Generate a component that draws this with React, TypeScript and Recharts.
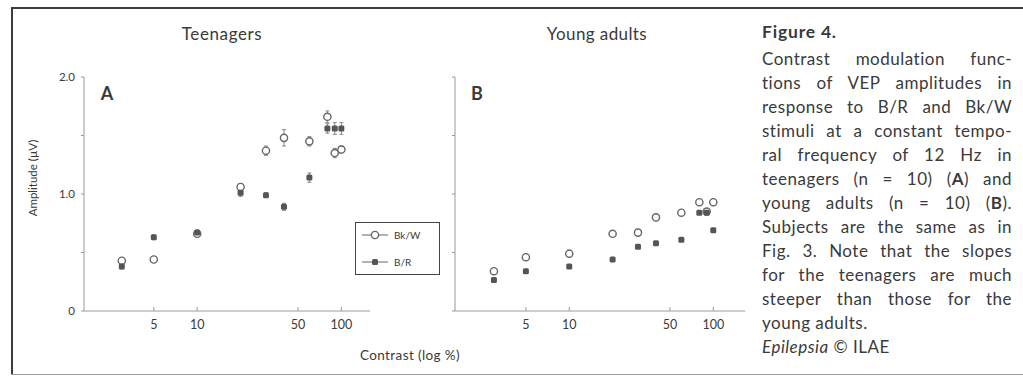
import React from 'react';
import { ScatterChart, Scatter, XAxis, YAxis, ErrorBar } from 'recharts';

const contrastLevels = [3, 5, 10, 20, 30, 40, 60, 80, 90, 100];
const teenBkW = [0.43, 0.44, 0.66, 1.06, 1.37, 1.48, 1.45, 1.66, 1.35, 1.38];
const teenBR = [0.38, 0.63, 0.67, 1.01, 0.99, 0.89, 1.14, 1.56, 1.56, 1.56];
const teenBkWErr = [0.02, 0.02, 0.02, 0.03, 0.04, 0.07, 0.04, 0.05, 0.04, 0.03];
const teenBRErr = [0.02, 0.02, 0.02, 0.03, 0.02, 0.03, 0.04, 0.04, 0.05, 0.05];
const adultBkW = [0.34, 0.46, 0.49, 0.66, 0.67, 0.8, 0.84, 0.93, 0.85, 0.93];
const adultBR = [0.265, 0.34, 0.38, 0.44, 0.55, 0.58, 0.61, 0.84, 0.84, 0.69];
const xTicks = [5, 10, 50, 100];
const yTicks = [0, 0.5, 1.0, 1.5, 2.0];
const yTickLabels: Record<number, string> = { 0: '0', 1: '1.0', 2: '2.0' };

const FONT = "Lato, 'Open Sans', sans-serif";
const TEXT = '#3a3a3a';
const AXIS = '#9a9a9a';

const build = (vals: number[], errs?: number[]) =>
  contrastLevels.map((c, i) => ({ x: c, y: vals[i], err: errs ? errs[i] : 0 }));

const OpenDot = (p: any) => (
  <circle cx={p.cx} cy={p.cy} r={3.6} fill="#fff" stroke="#666" strokeWidth={1.4} />
);
const FilledDot = (p: any) => (
  <rect x={p.cx - 3} y={p.cy - 3} width={6} height={6} rx={1.5} fill="#555" />
);

function Panel(props: {
  left: number;
  width: number;
  marginLeft: number;
  marginRight: number;
  domain: [number, number];
  bkw: { x: number; y: number; err: number }[];
  br: { x: number; y: number; err: number }[];
  showYLabels: boolean;
  errors: boolean;
}) {
  return (
    <div style={{ position: 'absolute', left: props.left, top: 0 }}>
      <ScatterChart
        width={props.width}
        height={378}
        margin={{ top: 77, right: props.marginRight, bottom: 37, left: props.marginLeft }}
      >
        <XAxis
          type="number"
          dataKey="x"
          scale="log"
          domain={props.domain}
          allowDataOverflow
          ticks={xTicks}
          height={30}
          stroke={AXIS}
          tickSize={-4}
          tickMargin={13}
          tick={{ fill: TEXT, fontSize: 12.5, fontFamily: FONT }}
        />
        <YAxis
          type="number"
          dataKey="y"
          domain={[0, 2]}
          ticks={yTicks}
          width={30}
          stroke={AXIS}
          tickSize={3}
          tickMargin={6}
          tickFormatter={(v: number) => (props.showYLabels ? yTickLabels[v] ?? '' : '')}
          tick={{ fill: TEXT, fontSize: 11.5, fontFamily: FONT }}
        />
        <Scatter name="Bk/W" data={props.bkw} shape={OpenDot} isAnimationActive={false}>
          {props.errors && (
            <ErrorBar dataKey="err" direction="y" width={2} stroke="#888" strokeWidth={1} />
          )}
        </Scatter>
        <Scatter name="B/R" data={props.br} shape={FilledDot} isAnimationActive={false}>
          {props.errors && (
            <ErrorBar dataKey="err" direction="y" width={2} stroke="#888" strokeWidth={1} />
          )}
        </Scatter>
      </ScatterChart>
    </div>
  );
}

const captionLines: React.ReactNode[] = [
  'Contrast modulation func-',
  'tions of VEP amplitudes in',
  'response to B/R and Bk/W',
  'stimuli at a constant tempo-',
  'ral frequency of 12 Hz in',
  <>teenagers (n = 10) (<b>A</b>) and</>,
  <>young adults (n = 10) (<b>B</b>).</>,
  'Subjects are the same as in',
  'Fig. 3. Note that the slopes',
  'for the teenagers are much',
  'steeper than those for the',
];

export default function App() {
  const abs = (x: number, y: number, extra: React.CSSProperties = {}): React.CSSProperties => ({
    position: 'absolute',
    left: x,
    top: y,
    transform: 'translate(-50%, -50%)',
    whiteSpace: 'nowrap',
    fontFamily: FONT,
    color: TEXT,
    ...extra,
  });
  return (
    <div
      style={{
        position: 'absolute',
        left: 0,
        top: 0,
        width: 1023,
        height: 378,
        background: '#fff',
        overflow: 'hidden',
        fontFamily: FONT,
      }}
    >
      {/* frame */}
      <div style={{ position: 'absolute', left: 11, top: 7, width: 1012, height: 2, background: '#3c3c3c' }} />
      <div style={{ position: 'absolute', left: 11, top: 7, width: 2, height: 368, background: '#3c3c3c' }} />
      <div style={{ position: 'absolute', left: 11, top: 374, width: 1012, height: 1, background: '#9a9a9a' }} />

      <Panel
        left={0}
        width={400}
        marginLeft={54}
        marginRight={30}
        domain={[1.64, 158]}
        bkw={build(teenBkW, teenBkWErr)}
        br={build(teenBR, teenBRErr)}
        showYLabels
        errors
      />
      <Panel
        left={400}
        width={360}
        marginLeft={25}
        marginRight={15}
        domain={[1.61, 166]}
        bkw={build(adultBkW)}
        br={build(adultBR)}
        showYLabels={false}
        errors={false}
      />

      <div style={abs(222, 33, { fontSize: 17, letterSpacing: 0.6 })}>Teenagers</div>
      <div style={abs(597, 33, { fontSize: 17, letterSpacing: 0.4 })}>Young adults</div>
      <div style={abs(107, 93, { fontSize: 18, fontWeight: 700 })}>A</div>
      <div style={abs(477, 93, { fontSize: 18, fontWeight: 700 })}>B</div>
      <div style={abs(32, 178, { fontSize: 11.5, transform: 'translate(-50%, -50%) rotate(-90deg)' })}>
        Amplitude (µV)
      </div>
      <div style={abs(410, 355, { fontSize: 13.5, letterSpacing: 0.4 })}>Contrast (log %)</div>

      {/* legend */}
      <div
        style={{
          position: 'absolute',
          left: 355,
          top: 222,
          width: 83,
          height: 51,
          border: '1.5px solid #444',
          fontFamily: FONT,
          fontSize: 10,
          color: TEXT,
        }}
      >
        <div style={{ position: 'absolute', left: 6, top: 6, display: 'flex', alignItems: 'center' }}>
          <svg width={26} height={12}>
            <line x1={0} y1={6} x2={26} y2={6} stroke="#666" strokeWidth={1} />
            <circle cx={13} cy={6} r={3.6} fill="#fff" stroke="#666" strokeWidth={1.4} />
          </svg>
          <span style={{ marginLeft: 6 }}>Bk/W</span>
        </div>
        <div style={{ position: 'absolute', left: 6, top: 33, display: 'flex', alignItems: 'center' }}>
          <svg width={26} height={12}>
            <line x1={0} y1={6} x2={26} y2={6} stroke="#666" strokeWidth={1} />
            <rect x={10} y={3} width={6} height={6} rx={1.5} fill="#555" />
          </svg>
          <span style={{ marginLeft: 6 }}>B/R</span>
        </div>
      </div>

      {/* caption */}
      <div
        style={{
          position: 'absolute',
          left: 762,
          top: 20,
          width: 250,
          fontFamily: FONT,
          color: TEXT,
          fontSize: 17,
          letterSpacing: 0.5,
        }}
      >
        <div style={{ height: 24, lineHeight: '24px', fontWeight: 700, fontSize: 17.5, letterSpacing: 0.8 }}>Figure 4.</div>
        <div style={{ height: 3 }} />
        {captionLines.map((ln, i) => (
          <div
            key={i}
            style={{ height: 24, lineHeight: '24px', textAlign: 'justify', textAlignLast: 'justify', whiteSpace: 'nowrap' }}
          >
            {ln}
          </div>
        ))}
        <div style={{ height: 24, lineHeight: '24px' }}>young adults.</div>
        <div style={{ height: 24, lineHeight: '24px' }}>
          <i>Epilepsia</i> © ILAE
        </div>
      </div>
    </div>
  );
}
